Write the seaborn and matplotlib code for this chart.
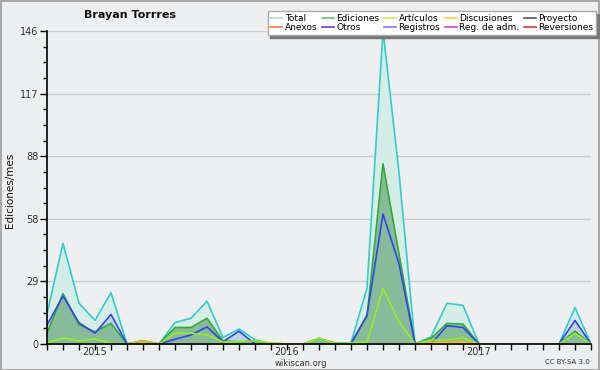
import numpy as np
import pandas as pd
import matplotlib
matplotlib.use("Agg")
import matplotlib.pyplot as plt
import seaborn as sns
from matplotlib.lines import Line2D
from matplotlib.patches import Rectangle

# Monthly edits, Oct 2014 .. Aug 2017
months = pd.date_range("2014-10-01", "2017-08-01", freq="MS")
total = [14, 47, 19, 11, 24, 0, 1.5, 0, 10, 12, 20, 3, 7, 2, 0, 0, 0, 2.6,
         0.3, 0.6, 26, 146, 80, 0, 3.4, 19, 18, 0, 0, 0, 0, 0, 0, 17, 0]
ediciones = [5, 23.5, 9, 5.7, 9.6, 0, 1.5, 0, 7.7, 7.7, 12, 1.5, 1, 1.5, 0.3,
             0, 0, 2.6, 0.3, 0.6, 12.7, 84, 42, 0, 2.6, 9.6, 9.3, 0, 0, 0, 0,
             0, 0, 6, 0]
registros = [8.8, 22.4, 9.9, 5, 13.8, 0, 0, 0, 2.2, 4.2, 8, 1, 6, 0, 0, 0,
             0, 0, 0, 0, 13.5, 60.6, 37.4, 0, 0, 8.5, 7.7, 0, 0, 0, 0, 0, 0,
             11, 0]
articulos = [0.6, 2.8, 1.5, 2.4, 0.3, 0, 0, 0, 5, 5, 4.2, 1, 1, 1.5, 0.6, 0,
             0, 2.6, 0.3, 0.6, 1, 25.8, 10.3, 0, 1.9, 1.9, 3, 0, 0, 0, 0, 0,
             0, 5, 0]
discusiones = [0, 0, 0, 0, 0, 0, 1.5, 0, 0, 0, 0, 0, 0, 0, 0, 0, 0, 0, 0, 0,
               0, 0, 0, 0, 0.8, 0.8, 1.2, 0, 0, 0, 0, 0, 0, 0, 0]

legend_names = ["Total", "Ediciones", "Artículos", "Discusiones", "Proyecto",
                "Anexos", "Otros", "Registros", "Reg. de adm.", "Reversiones"]
legend_colors = ["#aadddd", "#77bb77", "#ccee55", "#ffcc44", "#555555",
                 "#ff7744", "#7733cc", "#7777ee", "#cc44cc", "#ee3333"]

df = pd.DataFrame({"x": np.arange(len(months)), "total": total,
                   "ediciones": ediciones, "registros": registros,
                   "articulos": articulos, "discusiones": discusiones})

bg = "#eeeff1"
plt.rcParams["font.family"] = ["DejaVu Sans"]
fig = plt.figure(figsize=(6, 3.7), dpi=100, facecolor=bg)
ax = fig.add_axes([47 / 600, 26 / 370, 544 / 600, 313 / 370])
ax.set_facecolor(bg)

# filled areas
ax.fill_between(df["x"], df["total"], color="#d5ede7", lw=0, zorder=1)
ax.fill_between(df["x"], df["registros"], color="#bcd5e4", lw=0, zorder=2)
ax.fill_between(df["x"], df["ediciones"], color="#88bb99", lw=0, zorder=3)
ax.fill_between(df["x"], df["discusiones"], color="#e8cc55", lw=0, zorder=3)

sns.lineplot(data=df, x="x", y="total", color="#33cccc", lw=1.2, ax=ax, zorder=5)
sns.lineplot(data=df, x="x", y="ediciones", color="#33aa33", lw=1.2, ax=ax, zorder=6)
sns.lineplot(data=df, x="x", y="registros", color="#3344ee", lw=1.2, ax=ax, zorder=7)
sns.lineplot(data=df, x="x", y="articulos", color="#99ee22", lw=1.1, ax=ax, zorder=8)
sns.lineplot(data=df, x="x", y="discusiones", color="#eebb22", lw=1.1, ax=ax, zorder=8)

ymax = max(total)
ax.set_xlim(0, len(months) - 1)
ax.set_ylim(0, ymax)
yt = np.linspace(0, ymax, 6)
ax.set_yticks(yt)
ax.set_yticklabels([f"{v:.0f}" for v in yt])
ax.set_yticks(np.linspace(0, ymax, 21), minor=True)
ax.grid(axis="y", which="major", color="#cccccc", lw=1, zorder=0)
ax.set_axisbelow(True)

jan = [i for i, m in enumerate(months) if m.month == 1]
ax.set_xticks(np.arange(len(months)), minor=True)
ax.set_xticks(jan)
ax.set_xticklabels([str(months[i].year) for i in jan])
ax.tick_params(axis="x", which="both", length=4, width=1, color="black",
               labelsize=7, labelcolor="#333333", pad=-1.5)
ax.tick_params(axis="y", which="major", length=5, width=1, color="black",
               labelsize=7, labelcolor="#333333", pad=1)
ax.tick_params(axis="y", which="minor", length=3, width=1, color="black")

for s in ["top", "right"]:
    ax.spines[s].set_visible(False)
for s in ["left", "bottom"]:
    ax.spines[s].set_color("black")
    ax.spines[s].set_linewidth(1.2)
    ax.spines[s].set_zorder(10)

ax.set_xlabel("")
ax.set_ylabel("")
fig.text(10 / 600, 1 - 190 / 370, "Ediciones/mes", rotation=90, ha="center",
         va="center", fontsize=7.5, color="#111111")
fig.text(130 / 600, 1 - 15 / 370, "Brayan Torrres", ha="center", va="center",
         fontsize=8, fontweight="bold", color="#111111")
fig.text(301 / 600, 1 - 363.5 / 370, "wikiscan.org", ha="center", va="center",
         fontsize=6, color="#333333")
fig.text(590 / 600, 1 - 362 / 370, "CC BY-SA 3.0", ha="right", va="center",
         fontsize=5, color="#333333")

# legend, column-major order to get two rows of five
order = [0, 5, 1, 6, 2, 7, 3, 8, 4, 9]
handles = [Line2D([], [], color=legend_colors[i], lw=1.2) for i in order]
labels = [legend_names[i] for i in order]
leg = fig.legend(handles, labels, ncol=5, loc="upper right",
                 bbox_to_anchor=(596 / 600, 1 - 11 / 370), fontsize=6.5,
                 frameon=True, fancybox=False,
                 shadow={"color": "#777777", "alpha": 1, "ox": 2, "oy": -2},
                 framealpha=1, edgecolor="#aaaaaa", borderpad=0.3,
                 handlelength=1.3, handletextpad=0.3, columnspacing=0.5,
                 labelspacing=0.05, borderaxespad=0)
leg.set_zorder(20)

fig.patches.append(Rectangle((0.001, 0.001), 0.997, 0.996, transform=fig.transFigure,
                             fill=False, edgecolor="#aaaaaa", lw=1.5))

fig.savefig("out.png", dpi=100, facecolor=bg)
